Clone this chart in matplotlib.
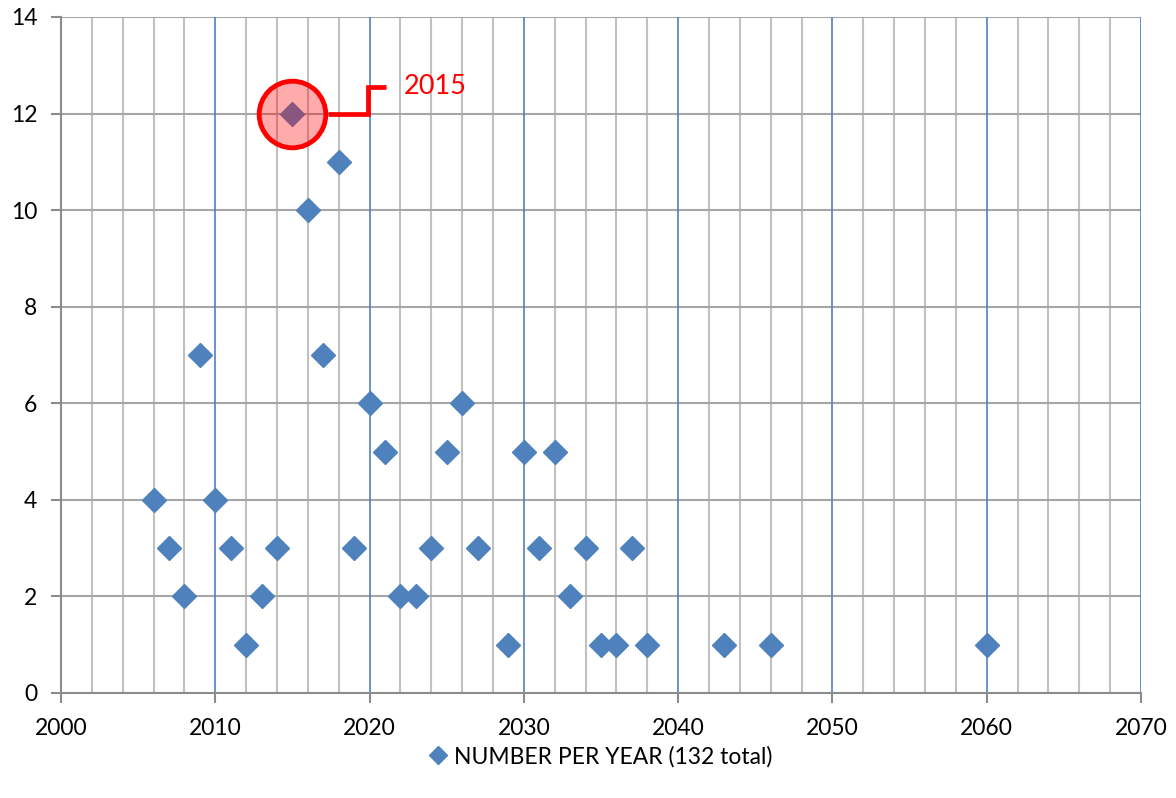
import numpy as np
import matplotlib
matplotlib.use('Agg')
import matplotlib.pyplot as plt
from matplotlib.lines import Line2D

# yearly counts
years = [2006, 2007, 2008, 2009, 2010, 2011, 2012, 2013, 2014, 2015,
         2016, 2017, 2018, 2019, 2020, 2021, 2022, 2023, 2024, 2025,
         2026, 2027, 2029, 2030, 2031, 2032, 2033, 2034, 2035, 2036,
         2037, 2038, 2043, 2046, 2060]
counts = [4, 3, 2, 7, 4, 3, 1, 2, 3, 12,
          10, 7, 11, 3, 6, 5, 2, 2, 3, 5,
          6, 3, 1, 5, 3, 5, 2, 3, 1, 1,
          3, 1, 1, 1, 1]
legend_label = 'NUMBER PER YEAR (132 total)'
highlight_year = 2015
highlight_value = 12

BLUE = '#4F81BD'
RED = '#FF0000'

plt.rcParams['font.family'] = ['Lato', 'DejaVu Sans']

fig = plt.figure(figsize=(11.76, 7.98), dpi=100)
ax = fig.add_axes([0.0519, 0.1316, 0.9183, 0.8471])

ax.set_xlim(2000, 2070)
ax.set_ylim(0, 14)

# grid: light gray every 2 years, blue every 10, gray horizontal every 2
for x in np.arange(2002, 2070, 2):
    if x % 10:
        ax.axvline(x, color='#C0C0C0', lw=1.5, zorder=0)
for x in np.arange(2010, 2071, 10):
    ax.axvline(x, color=BLUE, lw=1.2, zorder=0.5)
for y in np.arange(2, 15, 2):
    ax.axhline(y, color='#A6A6A6', lw=1.5, zorder=0)

for side in ['top', 'right']:
    ax.spines[side].set_visible(False)
for side in ['left', 'bottom']:
    ax.spines[side].set_color('#8C8C8C')
    ax.spines[side].set_linewidth(1.5)

ax.set_xticks(np.arange(2000, 2071, 10))
ax.set_yticks(np.arange(0, 15, 2))
ax.tick_params(axis='both', colors='#8C8C8C', width=1.5, length=7,
               labelsize=16.5, labelcolor='black')
ax.tick_params(axis='x', pad=11)
ax.tick_params(axis='y', pad=10)

ax.plot(years, counts, linestyle='none', marker='D', ms=12.5,
        color=BLUE, zorder=3, clip_on=False)

# highlight circle and callout
ax.scatter([highlight_year], [highlight_value], s=2300, facecolor=(1, 0, 0, 0.33),
           edgecolor=RED, linewidths=3.5, zorder=4)
ax.plot([2017.3, 2019.9, 2019.9, 2021.05], [12, 12, 12.56, 12.56],
        color=RED, lw=3.4, zorder=4, solid_capstyle='butt', solid_joinstyle='miter')
ax.text(2022.2, 12.56, str(highlight_year), color=RED, fontsize=19.5,
        va='center', ha='left', zorder=5)

handle = Line2D([], [], linestyle='none', marker='D', ms=9.5, color=BLUE)
fig.legend([handle], [legend_label], loc='center', bbox_to_anchor=(0.509, 0.052),
           frameon=False, fontsize=16.5, handletextpad=0.1, handlelength=1.2)

fig.savefig('out.png', dpi=100)
